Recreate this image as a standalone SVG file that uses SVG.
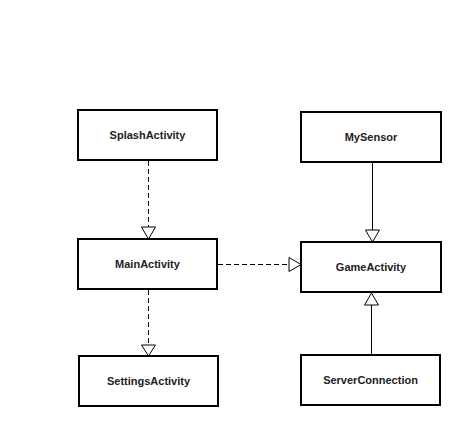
<svg xmlns="http://www.w3.org/2000/svg" width="462" height="426" viewBox="0 0 462 426">
<style>
.box{fill:#fff;stroke:#000;stroke-width:2}
.lbl{font-family:"Liberation Sans",Arial,sans-serif;font-size:11px;font-weight:bold;text-anchor:middle;dominant-baseline:central;fill:#222}
.dash{stroke:#000;stroke-width:1;stroke-dasharray:5,3;fill:none}
.solid{stroke:#000;stroke-width:1;fill:none}
.head{fill:#fff;stroke:#000;stroke-width:1}
</style>
<rect width="462" height="426" fill="#fff"/>
<g id="connectors">
<line class="dash" x1="148.5" y1="161" x2="148.5" y2="227"/>
<polygon class="head" points="141.5,227 155.5,227 148.5,239"/>
<line class="dash" x1="148.5" y1="290" x2="148.5" y2="345"/>
<polygon class="head" points="141.5,345 155.5,345 148.5,356"/>
<line class="dash" x1="218" y1="264.5" x2="289" y2="264.5"/>
<polygon class="head" points="289,257.5 289,271.5 301,264.5"/>
<line class="solid" x1="372.5" y1="163" x2="372.5" y2="230"/>
<polygon class="head" points="365.5,230 379.5,230 372.5,242"/>
<line class="solid" x1="371.5" y1="355" x2="371.5" y2="305"/>
<polygon class="head" points="364.5,305 378.5,305 371.5,293"/>
</g>
<g id="SplashActivity"><rect class="box" x="78" y="110" width="139" height="50"/><text class="lbl" x="147.5" y="135">SplashActivity</text></g>
<g id="MainActivity"><rect class="box" x="78" y="239" width="139" height="50"/><text class="lbl" x="147.5" y="264">MainActivity</text></g>
<g id="SettingsActivity"><rect class="box" x="79" y="356" width="139" height="50"/><text class="lbl" x="148.5" y="381">SettingsActivity</text></g>
<g id="MySensor"><rect class="box" x="301" y="112" width="140" height="50"/><text class="lbl" x="371" y="137">MySensor</text></g>
<g id="GameActivity"><rect class="box" x="301" y="242" width="140" height="50"/><text class="lbl" x="371" y="267">GameActivity</text></g>
<g id="ServerConnection"><rect class="box" x="301" y="355" width="139" height="50"/><text class="lbl" x="370.5" y="380">ServerConnection</text></g>
</svg>
